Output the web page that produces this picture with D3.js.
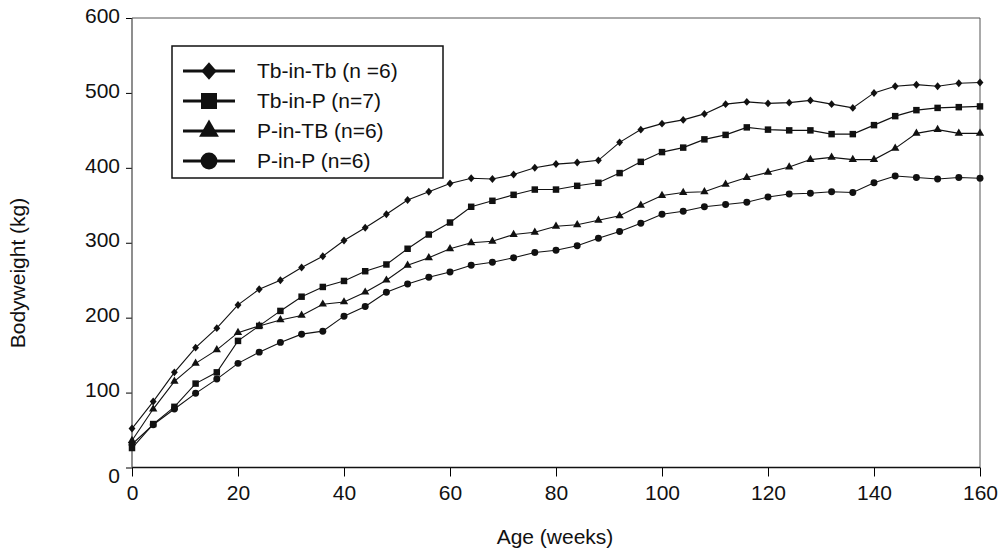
<!DOCTYPE html>
<html>
<head>
<meta charset="utf-8">
<script src="https://cdn.jsdelivr.net/npm/d3@7"></script>
<style>
  body { margin: 0; background: #fff; }
  text { font-family: Arial, "Liberation Sans", sans-serif; fill: #111; }
</style>
</head>
<body>
<svg></svg>
<script>
let width = 999;
let height = 551;

// data (kg), one point every 4 weeks
let weeks = [0, 4, 8, 12, 16, 20, 24, 28, 32, 36, 40, 44, 48, 52, 56, 60, 64, 68, 72, 76, 80,
             84, 88, 92, 96, 100, 104, 108, 112, 116, 120, 124, 128, 132, 136, 140, 144, 148, 152, 156, 160];

let tbInTb = [52, 88, 127, 160, 186, 217, 238, 250, 267, 282, 303, 320, 338, 357, 368, 379, 386, 385, 391, 400, 405,
              407, 410, 434, 451, 459, 464, 472, 485, 488, 486, 487, 490, 485, 480, 500, 509, 511, 509, 513, 514];
let tbInP  = [26, 58, 81, 112, 127, 169, 189, 209, 228, 241, 249, 262, 271, 292, 311, 327, 348, 356, 364, 371, 371,
              376, 380, 393, 408, 421, 427, 438, 444, 454, 451, 450, 450, 445, 445, 457, 469, 477, 480, 481, 482];
let pInTb  = [36, 78, 115, 139, 157, 180, 189, 197, 203, 218, 221, 234, 250, 270, 280, 292, 300, 302, 311, 314, 322,
              324, 330, 336, 350, 363, 367, 368, 378, 387, 394, 401, 411, 414, 411, 411, 426, 446, 451, 446, 446];
let pInP   = [31, 57, 78, 99, 118, 139, 154, 167, 178, 182, 202, 215, 234, 245, 254, 261, 270, 274, 280, 287, 290,
              296, 306, 315, 326, 338, 342, 348, 351, 354, 361, 365, 366, 368, 367, 380, 389, 387, 385, 387, 386];

let seriesNames = ['Tb-in-Tb (n =6)', 'Tb-in-P (n=7)', 'P-in-TB (n=6)', 'P-in-P (n=6)'];
let xTicks = [0, 20, 40, 60, 80, 100, 120, 140, 160];
let yTicks = [0, 100, 200, 300, 400, 500, 600];

let svg = d3.select('svg')
            .attr('width', width)
            .attr('height', height);

let x = d3.scaleLinear().domain([0, 160]).range([132, 980]);
let y = d3.scaleLinear().domain([0, 600]).range([467.5, 18]);

// diamond a bit wider than d3's own
let diamond = {
  draw: function(ctx, size) {
    let r = Math.sqrt(size) / 2;
    ctx.moveTo(0, -r * 1.1);
    ctx.lineTo(r * 0.95, 0);
    ctx.lineTo(0, r * 1.1);
    ctx.lineTo(-r * 0.95, 0);
    ctx.closePath();
  }
};

let shapes = [diamond, d3.symbolSquare, d3.symbolTriangle, d3.symbolCircle];
let plotSizes = [52, 42, 30, 38];
let legendSizes = [260, 256, 170, 225];

let allSeries = [tbInTb, tbInP, pInTb, pInP];

// frame
svg.append('line').attr('x1', 132).attr('x2', 980).attr('y1', 18).attr('y2', 18)
   .attr('stroke', '#555').attr('stroke-width', 1);
svg.append('line').attr('x1', 980).attr('x2', 980).attr('y1', 18).attr('y2', 467.5)
   .attr('stroke', '#555').attr('stroke-width', 1);

// axes
let xAxis = svg.append('g')
   .attr('transform', 'translate(0,467.5)')
   .call(d3.axisBottom(x).tickValues(xTicks).tickSize(9).tickPadding(9));
xAxis.select('.domain').remove();
xAxis.selectAll('text').style('font-size', '21px');

let yAxis = svg.append('g')
   .attr('transform', 'translate(132,0)')
   .call(d3.axisLeft(y).tickValues(yTicks).tickSize(6).tickPadding(6));
yAxis.select('.domain').remove();
yAxis.selectAll('text')
     .style('font-size', '21px')
     .attr('dy', function(d) { return d == 0 ? '0.72em' : '0.2em'; });

svg.append('line').attr('x1', 132).attr('x2', 980).attr('y1', 467.5).attr('y2', 467.5)
   .attr('stroke', '#111').attr('stroke-width', 1.6);
svg.append('line').attr('x1', 132).attr('x2', 132).attr('y1', 18).attr('y2', 467.5)
   .attr('stroke', '#444').attr('stroke-width', 1.2);

// series
let line = d3.line()
             .x(function(d, i) { return x(weeks[i]); })
             .y(function(d) { return y(d); });

allSeries.forEach(function(values, k) {
  svg.append('path')
     .datum(values)
     .attr('fill', 'none')
     .attr('stroke', '#111')
     .attr('stroke-width', 1.1)
     .attr('d', line);

  svg.append('g')
     .selectAll('path')
     .data(values)
     .enter()
     .append('path')
     .attr('transform', function(d, i) { return 'translate(' + x(weeks[i]) + ',' + y(d) + ')'; })
     .attr('d', d3.symbol().type(shapes[k]).size(plotSizes[k]))
     .attr('fill', '#111');
});

// legend
let legend = svg.append('g');
legend.append('rect')
      .attr('x', 172).attr('y', 46).attr('width', 271).attr('height', 132)
      .attr('fill', '#fff').attr('stroke', '#111').attr('stroke-width', 1.5);

let rows = legend.selectAll('.row')
      .data(seriesNames)
      .enter()
      .append('g')
      .attr('class', 'row')
      .attr('transform', function(d, i) { return 'translate(0,' + (71 + i * 30) + ')'; });

rows.append('line')
    .attr('x1', 183).attr('x2', 235)
    .attr('stroke', '#111').attr('stroke-width', 3);
rows.append('path')
    .attr('transform', 'translate(209,0)')
    .attr('d', function(d, i) { return d3.symbol().type(shapes[i]).size(legendSizes[i])(); })
    .attr('fill', '#111');
rows.append('text')
    .attr('x', 257)
    .attr('dy', '0.35em')
    .style('font-size', '21px')
    .text(function(d) { return d; });

// axis titles
svg.append('text')
   .attr('x', 555).attr('y', 544)
   .attr('text-anchor', 'middle')
   .style('font-size', '21px')
   .text('Age (weeks)');

svg.append('text')
   .attr('transform', 'translate(25,273) rotate(-90)')
   .attr('text-anchor', 'middle')
   .style('font-size', '21px')
   .text('Bodyweight (kg)');
</script>
</body>
</html>
